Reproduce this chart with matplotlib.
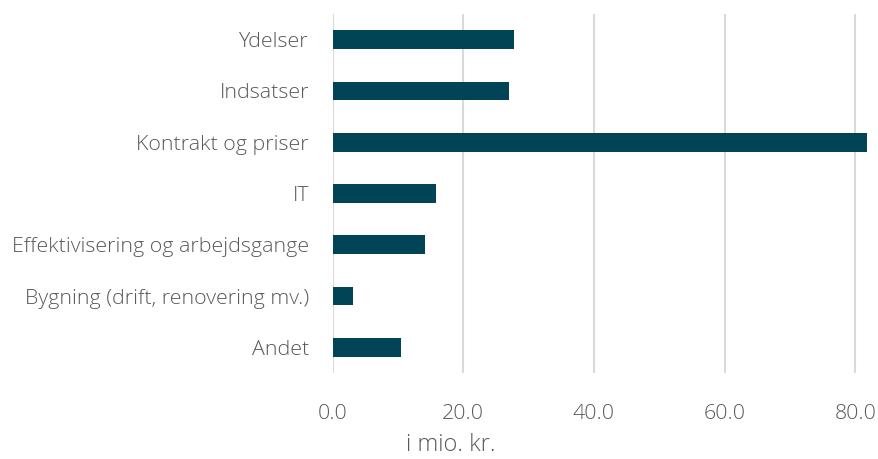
import matplotlib
matplotlib.use("Agg")
import matplotlib.pyplot as plt

# data (i mio. kr.)
categories = ["Ydelser", "Indsatser", "Kontrakt og priser", "IT",
              "Effektivisering og arbejdsgange", "Bygning (drift, renovering mv.)", "Andet"]
values = [27.7, 27.0, 81.7, 15.9, 14.2, 3.1, 10.4]
xticks = [0, 20, 40, 60, 80]

bar_color = "#004456"
grid_color = "#d9d9d9"
text_color = "#595959"

plt.rcParams["font.family"] = ["Open Sans", "DejaVu Sans"]
plt.rcParams["font.weight"] = "light"

fig = plt.figure(figsize=(8.79, 4.59), dpi=100)
ax = fig.add_axes([0.3783, 0.1874, 0.6217, 0.7821])

ypos = list(range(len(categories)))
ax.barh(ypos, values, height=0.365, color=bar_color, zorder=3)
ax.set_ylim(len(categories) - 0.5, -0.5)
ax.set_xlim(0, 83.6)

ax.set_yticks(ypos)
ax.set_yticklabels(categories)
ax.set_xticks(xticks)
ax.set_xticklabels([f"{v:.1f}" for v in xticks])

for v in xticks:
    ax.axvline(v, color=grid_color, linewidth=1.5, zorder=1)

for s in ax.spines.values():
    s.set_visible(False)
ax.tick_params(axis="both", length=0, labelsize=15.4, colors=text_color)
ax.tick_params(axis="y", pad=17)
ax.tick_params(axis="x", pad=22)

# x-axis title sits left of the axis centre, right at the bottom edge
fig.text(451 / 879, 2 / 459, "i mio. kr.", ha="center", va="bottom",
         fontsize=17, color=text_color)

fig.savefig("out.png", dpi=100)
